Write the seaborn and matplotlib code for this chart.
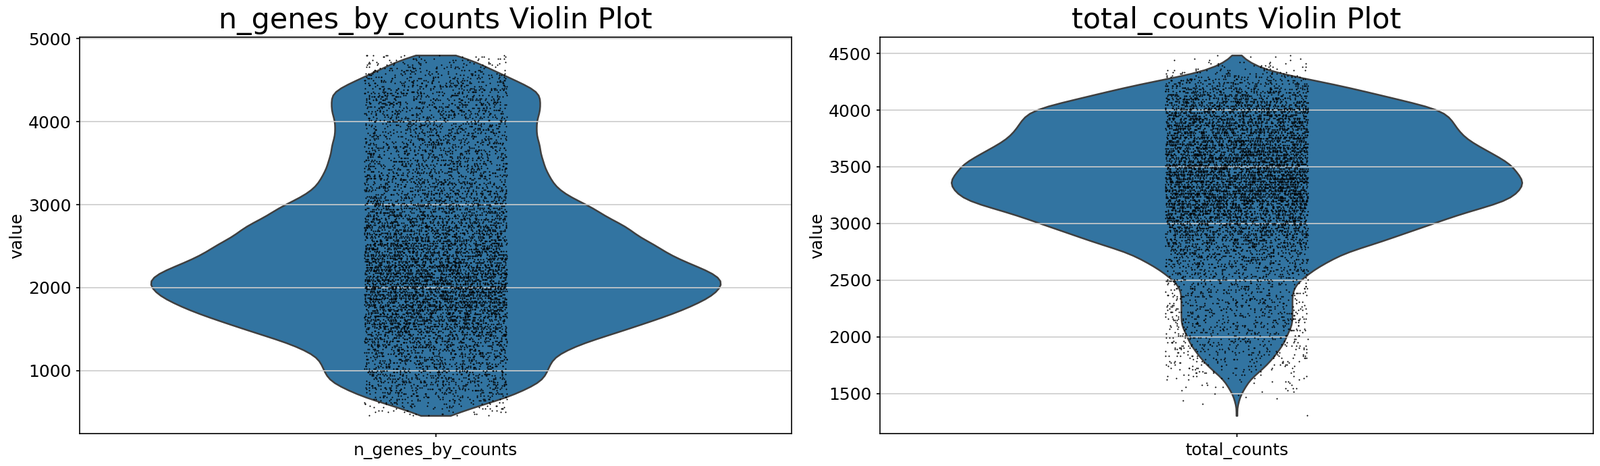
import numpy as np
import pandas as pd
import matplotlib
matplotlib.use("Agg")
import matplotlib.pyplot as plt
import seaborn as sns

plot_path = "out.png"

genes_start, genes_stop, genes_step = 460, 4800, 20
genes_counts = [
    5, 6, 7, 8, 9, 10, 12, 13, 15, 17,
    19, 20, 21, 22, 23, 24, 25, 26, 27, 28,
    29, 30, 30, 30, 30, 31, 31, 31, 31, 31,
    32, 32, 32, 32, 32, 33, 33, 34, 35, 36,
    37, 38, 39, 40, 41, 43, 44, 46, 47, 49,
    50, 52, 53, 54, 56, 57, 59, 60, 61, 63,
    64, 65, 67, 68, 69, 70, 71, 72, 73, 74,
    75, 76, 77, 77, 78, 78, 79, 79, 79, 80,
    80, 80, 80, 79, 78, 78, 77, 76, 75, 74,
    72, 71, 70, 69, 68, 67, 66, 65, 64, 63,
    63, 62, 62, 61, 60, 59, 58, 57, 56, 55,
    55, 55, 54, 54, 53, 52, 51, 50, 49, 48,
    47, 46, 46, 45, 45, 44, 43, 42, 41, 40,
    39, 38, 37, 36, 36, 35, 34, 34, 33, 33,
    33, 32, 32, 32, 32, 31, 31, 31, 31, 30,
    30, 30, 30, 30, 30, 30, 29, 29, 29, 29,
    29, 29, 29, 29, 29, 29, 28, 28, 28, 28,
    28, 28, 28, 28, 28, 28, 28, 28, 28, 28,
    28, 29, 29, 29, 29, 29, 29, 29, 29, 29,
    29, 29, 29, 29, 29, 29, 28, 27, 26, 25,
    24, 23, 22, 21, 20, 19, 18, 17, 16, 15,
    14, 13, 12, 11, 10, 10, 9, 8,
]

total_start, total_stop, total_step = 1305, 4485, 15
total_counts = [
    1, 0, 0, 0, 0, 0, 0, 1, 0, 1,
    1, 1, 1, 1, 2, 2, 3, 3, 3, 3,
    4, 4, 5, 5, 6, 7, 7, 8, 9, 9,
    10, 10, 11, 11, 12, 12, 13, 13, 13, 14,
    14, 15, 15, 15, 16, 16, 16, 16, 16, 17,
    17, 17, 18, 18, 18, 18, 18, 18, 18, 18,
    18, 18, 18, 18, 18, 18, 18, 18, 18, 18,
    18, 18, 18, 18, 18, 19, 19, 19, 19, 20,
    21, 22, 22, 23, 24, 24, 25, 26, 27, 28,
    29, 30, 31, 32, 33, 34, 35, 37, 39, 40,
    43, 45, 46, 48, 49, 51, 52, 54, 56, 57,
    59, 60, 62, 64, 65, 67, 68, 70, 71, 73,
    75, 77, 79, 81, 83, 85, 87, 88, 89, 90,
    90, 91, 91, 92, 92, 93, 93, 93, 93, 93,
    92, 92, 91, 91, 90, 90, 90, 89, 89, 88,
    87, 86, 85, 84, 83, 82, 81, 80, 79, 78,
    77, 76, 75, 74, 74, 73, 73, 72, 72, 71,
    71, 71, 70, 70, 70, 69, 69, 68, 68, 67,
    66, 64, 62, 60, 57, 55, 52, 50, 48, 46,
    43, 41, 39, 36, 34, 32, 29, 26, 23, 20,
    17, 14, 12, 10, 8, 7, 6, 5, 4, 3,
    2, 2, 2,
]

genes_levels = np.arange(genes_start, genes_stop + 1, genes_step)
total_levels = np.arange(total_start, total_stop + 1, total_step)

genes_df = pd.DataFrame({"variable": "n_genes_by_counts", "value": np.repeat(genes_levels, genes_counts)})
total_df = pd.DataFrame({"variable": "total_counts", "value": np.repeat(total_levels, total_counts)})

W, H = 2371, 690
fig, axes = plt.subplots(1, 2, figsize=(W / 150, H / 150), dpi=150)


def violin_panel(ax, df, name, bw):
    sns.violinplot(data=df, x="variable", y="value", inner=None, cut=0, density_norm="width",
                   bw_adjust=bw, linewidth=1.2, ax=ax)
    sns.stripplot(data=df, x="variable", y="value", jitter=True, color="black", size=1, linewidth=0, ax=ax)
    ax.grid(True, axis="y", color="0.8", linewidth=0.8)
    ax.set_title(name + " Violin Plot", fontsize=20.6)
    ax.set_xlabel("")
    ax.set_ylabel("value", fontsize=12, labelpad=2)
    ax.tick_params(labelsize=12, length=2.5)


violin_panel(axes[0], genes_df, "n_genes_by_counts", 0.38)
violin_panel(axes[1], total_df, "total_counts", 0.45)

axes[0].set_position([118 / W, 1 - 642 / H, 1055 / W, 587 / H])
axes[1].set_position([1304 / W, 1 - 642 / H, 1057 / W, 587 / H])

fig.savefig(plot_path, dpi=150)
